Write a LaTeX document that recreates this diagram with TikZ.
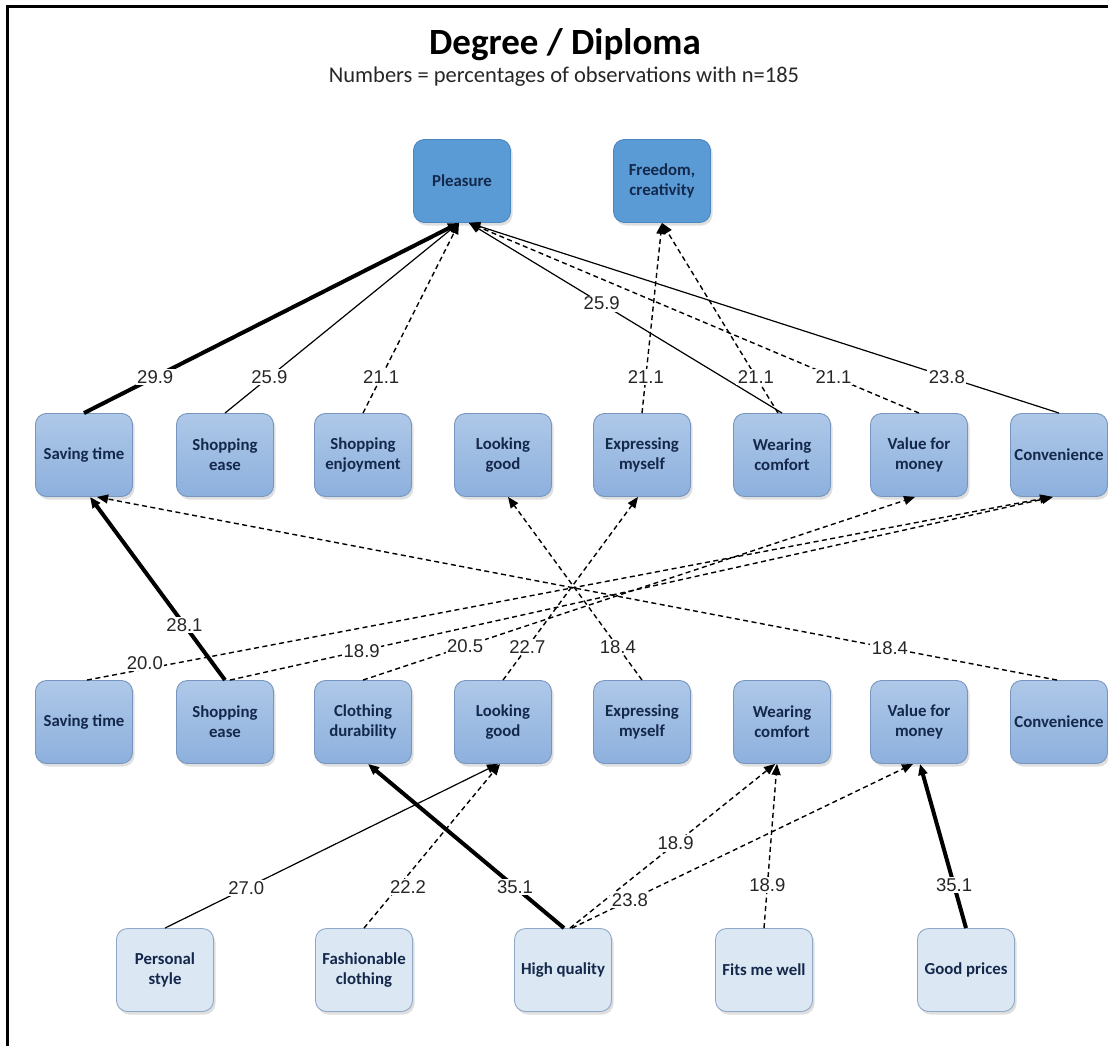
\documentclass[tikz,border=0pt]{standalone}
\usepackage{fontspec}
\setmainfont{Carlito}
\newfontfamily\numfont{Liberation Sans}
\usetikzlibrary{arrows.meta,shadows,calc}

\definecolor{ink}{HTML}{14284B}
\definecolor{numgray}{HTML}{262626}
\definecolor{goalfill}{HTML}{5B9BD5}
\definecolor{goalline}{HTML}{4A86C0}
\definecolor{midtop}{HTML}{AEC8E8}
\definecolor{midbot}{HTML}{8DB0DD}
\definecolor{midline}{HTML}{7895C0}
\definecolor{attrfill}{HTML}{DCE7F4}
\definecolor{attrline}{HTML}{8FA7C7}

\begin{document}
\begin{tikzpicture}[x=1pt,y=-1pt,
  box/.style={rounded corners=11pt, minimum width=97pt, minimum height=83pt,
    align=center, inner sep=2pt, text=ink, line width=0.9pt,
    font=\fontsize{16.8}{20}\selectfont\bfseries,
    drop shadow={opacity=0.25,shadow xshift=2pt,shadow yshift=-3pt}},
  goal/.style={box, fill=goalfill, draw=goalline},
  mid/.style={box, top color=midtop, bottom color=midbot, draw=midline},
  attr/.style={box, fill=attrfill, draw=attrline},
  link/.style={-{Triangle[length=11pt,width=9pt]}, line width=1.2pt, draw=black},
  strong/.style={link, line width=4pt},
  weak/.style={link, dash pattern=on 5pt off 3.5pt, line width=1.4pt},
  pct/.style={fill=white, inner sep=1.5pt, text=numgray,
    font=\numfont\fontsize{18.5}{18.5}\selectfont}
]
\useasboundingbox (0,0) rectangle (1108,1046);

% frame
\draw[line width=3pt] (7,1046) -- (7,7) -- (1108,7);

% heading
\node[font=\fontsize{37}{40}\selectfont\bfseries] (title) at (565,45) {Degree / Diploma};
\node[font=\fontsize{22.5}{24}\selectfont, text=numgray] (subtitle) at (564,77)
  {Numbers = percentages of observations with n=185};

% values
\node[goal] (pleasure) at (462,181) {Pleasure};
\node[goal] (freedom)  at (662,181) {Freedom,\\creativity};

% psychosocial consequences
\node[mid] (s2) at (84,455)   {Saving time};
\node[mid] (e2) at (225,455)  {Shopping\\ease};
\node[mid] (j2) at (363,455)  {Shopping\\enjoyment};
\node[mid] (l2) at (503,455)  {Looking\\good};
\node[mid] (x2) at (642,455)  {Expressing\\myself};
\node[mid] (w2) at (782,455)  {Wearing\\comfort};
\node[mid] (v2) at (919,455)  {Value for\\money};
\node[mid] (c2) at (1059,455) {Convenience};

% functional consequences
\node[mid] (s3) at (84,722)   {Saving time};
\node[mid] (e3) at (225,722)  {Shopping\\ease};
\node[mid] (d3) at (363,722)  {Clothing\\durability};
\node[mid] (l3) at (503,722)  {Looking\\good};
\node[mid] (x3) at (642,722)  {Expressing\\myself};
\node[mid] (w3) at (782,722)  {Wearing\\comfort};
\node[mid] (v3) at (919,722)  {Value for\\money};
\node[mid] (c3) at (1059,722) {Convenience};

% attributes
\node[attr] (ps) at (165,970) {Personal\\style};
\node[attr] (fc) at (364,970) {Fashionable\\clothing};
\node[attr] (hq) at (563,970) {High quality};
\node[attr] (fw) at (764,970) {Fits me well};
\node[attr] (gp) at (966,970) {Good prices};

% arrow end points
\coordinate (pL) at ($(pleasure.south)+(-3,0)$);
\coordinate (pR) at ($(pleasure.south)+(7,0)$);

% consequences -> values
\draw[strong] (s2.north) -- node[pct,pos=0.19]{29.9} (pL);
\draw[link]   (e2.north) -- node[pct,pos=0.19]{25.9} (pL);
\draw[weak]   (j2.north) -- node[pct,pos=0.19]{21.1} (pL);
\draw[link]   (w2.north) -- node[pct,pos=0.576]{25.9} (pR);
\draw[weak]   (v2.north) -- node[pct,pos=0.19]{21.1} (pR);
\draw[link]   (c2.north) -- node[pct,pos=0.19]{23.8} (pR);
\draw[weak]   (x2.north) -- node[pct,pos=0.19]{21.1} (freedom.south);
\draw[weak]   ($(w2.north)+(-4,0)$) -- node[pct,pos=0.19]{21.1} (freedom.south);

% functional -> psychosocial
\draw[strong] (e3.north) -- node[pct,pos=0.30]{28.1} ($(s2.south)+(6,0)$);
\draw[weak] ($(s3.north)+(3,0)$) -- node[pct,pos=0.06,yshift=6pt]{20.0} ($(c2.south)+(-8,0)$);
\draw[weak] ($(e3.north)+(5,0)$) -- node[pct,pos=0.16]{18.9} ($(c2.south)+(-6,0)$);
\draw[weak] (d3.north) -- node[pct,pos=0.185]{20.5} ($(v2.south)+(-4,0)$);
\draw[weak] (l3.north) -- node[pct,pos=0.18]{22.7} ($(x2.south)+(-4,0)$);
\draw[weak] (x3.north) -- node[pct,pos=0.18]{18.4} ($(l2.south)+(5,0)$);
\draw[weak] ($(c3.north)+(-2,0)$) -- node[pct,pos=0.174]{18.4} ($(s2.south)+(13,0)$);

% attributes -> functional
\draw[link] (ps.north) -- node[pct,pos=0.244]{27.0} ($(l3.south)+(-5,0)$);
\draw[weak] (fc.north) -- node[pct,pos=0.25,xshift=10pt]{22.2} ($(l3.south)+(-3,0)$);
\draw[strong] ($(hq.north)+(1,0)$) -- node[pct,pos=0.25]{35.1} ($(d3.south)+(5,0)$);
\draw[weak] ($(hq.north)+(7,0)$) -- node[pct,pos=0.515]{18.9} ($(w3.south)+(-7,0)$);
\draw[weak] ($(hq.north)+(9,0)$) -- node[pct,pos=0.17]{23.8} ($(v3.south)+(-6,0)$);
\draw[weak] (fw.north) -- node[pct,pos=0.26]{18.9} ($(w3.south)+(-5,0)$);
\draw[strong] (gp.north) -- node[pct,pos=0.26]{35.1} ($(v3.south)+(1,0)$);
\end{tikzpicture}
\end{document}
